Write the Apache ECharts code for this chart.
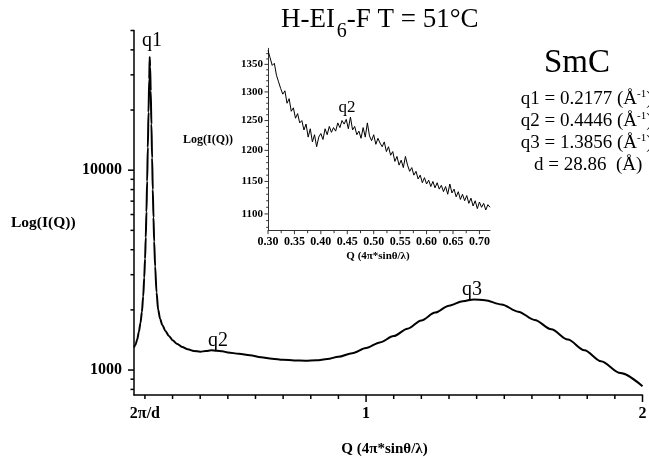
<!DOCTYPE html>
<html><head><meta charset="utf-8">
<script src="https://cdn.jsdelivr.net/npm/echarts@6/dist/echarts.min.js"></script>
<style>html,body{margin:0;padding:0;background:#fff}#c{width:649px;height:459px}</style>
</head><body><div id="c"></div>
<script>
// ---- main curve data ----
const qMain = [0.1605,0.166,0.172,0.178,0.184,0.189,0.1938,0.1975,0.2005,0.203,0.2055,0.208,0.2105,0.213,0.2155,0.2172,0.2188,0.221,0.2235,0.226,0.2285,0.231,0.2335,0.237,0.242,0.248,0.255,0.263,0.274,0.287,0.30,0.315,0.335,0.355,0.377,0.40,0.42,0.44,0.46,0.48,0.50,0.54,0.58,0.62,0.66,0.70,0.74,0.78,0.82,0.86,0.90,0.95,1.0,1.05,1.1,1.15,1.2,1.25,1.3,1.35,1.39,1.43,1.49,1.55,1.61,1.67,1.73,1.79,1.85,1.92,2.0];
const iMain = [1300,1340,1420,1550,1720,1950,2340,2900,3600,4600,6200,8800,13000,19500,28500,36800,33000,25000,17000,11500,8000,5800,4400,3300,2450,2000,1800,1680,1570,1480,1410,1355,1305,1270,1245,1235,1245,1255,1250,1240,1225,1205,1185,1160,1140,1125,1117,1113,1118,1135,1165,1215,1290,1375,1479,1610,1770,1940,2100,2210,2255,2235,2130,1960,1780,1600,1420,1255,1105,965,830];
// ---- inset data ----
const qInset = [0.300,0.304,0.308,0.312,0.316,0.320,0.324,0.328,0.332,0.336,0.340,0.344,0.348,0.352,0.356,0.360,0.364,0.368,0.372,0.376,0.380,0.384,0.388,0.392,0.396,0.400,0.404,0.408,0.412,0.416,0.420,0.424,0.428,0.432,0.436,0.440,0.444,0.448,0.452,0.456,0.460,0.464,0.468,0.472,0.476,0.480,0.484,0.488,0.492,0.496,0.500,0.504,0.508,0.512,0.516,0.520,0.524,0.528,0.532,0.536,0.540,0.544,0.548,0.552,0.556,0.560,0.564,0.568,0.572,0.576,0.580,0.584,0.588,0.592,0.596,0.600,0.604,0.608,0.612,0.616,0.620,0.624,0.628,0.632,0.636,0.640,0.644,0.648,0.652,0.656,0.660,0.664,0.668,0.672,0.676,0.680,0.684,0.688,0.692,0.696,0.700,0.704,0.708,0.712,0.716,0.720];
const iInset = [1376,1362,1348,1352,1330,1318,1306,1296,1302,1280,1288,1266,1272,1254,1262,1246,1250,1234,1244,1222,1236,1214,1226,1206,1222,1228,1218,1236,1226,1240,1230,1238,1232,1246,1238,1250,1244,1252,1236,1256,1234,1240,1226,1232,1220,1238,1222,1246,1224,1216,1226,1210,1220,1212,1206,1214,1198,1206,1192,1198,1182,1190,1176,1184,1172,1190,1176,1166,1172,1160,1166,1154,1160,1148,1156,1146,1152,1142,1150,1140,1148,1138,1144,1134,1142,1130,1146,1132,1138,1126,1134,1122,1130,1120,1128,1116,1124,1112,1120,1108,1118,1110,1116,1106,1114,1110];
// ---- ticks / labels ----
const mainYMajor = [1000, 10000];
const mainYTicks = [800, 900, 1000, 2000, 3000, 4000, 5000, 6000, 7000, 8000, 9000, 10000, 20000, 30000, 40000, 50000];
const mainXMajor = [1, 2];
const mainXTicks = [0.2,0.3,0.4,0.5,0.6,0.7,0.8,0.9,1.0,1.1,1.2,1.3,1.4,1.5,1.6,1.7,1.8,1.9,2.0];
const mainXLabels = [0.2, 1, 2];
const mainXLabelText = {'0.2':'2π/d','1':'1','2':'2'};
const insetXLabels = [0.30,0.35,0.40,0.45,0.50,0.55,0.60,0.65,0.70];
const insetXTicks = [0.300,0.325,0.350,0.375,0.400,0.425,0.450,0.475,0.500,0.525,0.550,0.575,0.600,0.625,0.650,0.675,0.700];
const insetYLabels = [1100,1150,1200,1250,1300,1350];
const insetYMinor = [1080,1090,1110,1120,1130,1140,1160,1170,1180,1190,1210,1220,1230,1240,1260,1270,1280,1290,1310,1320,1330,1340,1360,1370];

const FONT = 'Liberation Serif';
const X0MIN = 0.1605, X0MAX = 2, Y0MIN = 750, Y0MAX = 50000;
const X1MIN = 0.30, X1MAX = 0.72, Y1MIN = 1075, Y1MAX = 1380;
const mainPts = qMain.map((q,i)=>[q,iMain[i]]);
const insetPts = qInset.map((q,i)=>[q,iInset[i]]);
const near = (arr, v) => arr.some(a => Math.abs(a - v) < 1e-6);

// tick mark series drawn through the axes' own scales
function yTickSeries(xi, yi, xmin, vals, isMajor, majLen, minLen, color, lw) {
  return {type:'custom', xAxisIndex:xi, yAxisIndex:yi, silent:true, clip:false, z:5,
    data: vals.map(v => [xmin, v]),
    renderItem:(params, api) => {
      const v = api.value(1);
      const p = api.coord([api.value(0), v]);
      const len = isMajor(v) ? majLen : minLen;
      return {type:'line', shape:{x1:p[0]-len, y1:p[1], x2:p[0], y2:p[1]}, style:{stroke:color, lineWidth:lw}};
    }};
}
function xTickSeries(xi, yi, ymin, vals, isMajor, majLen, minLen, color, lw) {
  return {type:'custom', xAxisIndex:xi, yAxisIndex:yi, silent:true, clip:false, z:5,
    data: vals.map(v => [v, ymin]),
    renderItem:(params, api) => {
      const v = api.value(0);
      const p = api.coord([v, api.value(1)]);
      const len = isMajor(v) ? majLen : minLen;
      return {type:'line', shape:{x1:p[0], y1:p[1], x2:p[0], y2:p[1]+len}, style:{stroke:color, lineWidth:lw}};
    }};
}

const chart = echarts.init(document.getElementById('c'), null, {renderer:'canvas'});
const axLine = {show:true, lineStyle:{color:'#000', width:1.5}};
const inLine = {show:true, lineStyle:{color:'#333', width:1}};
const option = {
  backgroundColor:'#fff',
  animation:false,
  grid:[
    {left:134, right:6.5, top:30.5, bottom:64, outerBoundsMode:'none'},
    {left:268, right:159, top:48.3, bottom:228.3, outerBoundsMode:'none'}
  ],
  xAxis:[
    {gridIndex:0, type:'value', min:X0MIN, max:X0MAX, axisLine:axLine, splitLine:{show:false}, axisTick:{show:false},
     axisLabel:{show:true, customValues:mainXLabels, margin:11, fontFamily:FONT, fontWeight:'bold', fontSize:16, color:'#000',
       formatter:v=>mainXLabelText[String(Math.round(v*10)/10)]||''}},
    {gridIndex:1, type:'value', min:X1MIN, max:X1MAX, axisLine:inLine, splitLine:{show:false}, axisTick:{show:false},
     axisLabel:{show:true, customValues:insetXLabels, margin:5, fontFamily:FONT, fontWeight:'bold', fontSize:12, color:'#000',
       formatter:v=>v.toFixed(2)}}
  ],
  yAxis:[
    {gridIndex:0, type:'log', logBase:10, min:Y0MIN, max:Y0MAX, axisLine:axLine, splitLine:{show:false}, axisTick:{show:false}, minorTick:{show:false},
     axisLabel:{show:true, customValues:mainYMajor, margin:12, fontFamily:FONT, fontWeight:'bold', fontSize:16, color:'#000',
       formatter:v=>String(Math.round(v))}},
    {gridIndex:1, type:'log', logBase:10, min:Y1MIN, max:Y1MAX, axisLine:inLine, splitLine:{show:false}, axisTick:{show:false}, minorTick:{show:false},
     axisLabel:{show:true, customValues:insetYLabels, margin:5, fontFamily:FONT, fontWeight:'bold', fontSize:11, color:'#000',
       formatter:v=>String(Math.round(v))}}
  ],
  series:[
    {type:'line', xAxisIndex:0, yAxisIndex:0, data:mainPts, symbol:'none', smooth:0.3, smoothMonotone:'x',
     lineStyle:{color:'#000', width:2}},
    {type:'line', xAxisIndex:1, yAxisIndex:1, data:insetPts, symbol:'none',
     lineStyle:{color:'#000', width:1}},
    yTickSeries(0, 0, X0MIN, mainYTicks, v => near(mainYMajor, v), 6, 3.5, '#000', 1.5),
    xTickSeries(0, 0, Y0MIN, mainXTicks, v => near(mainXMajor, v), 7, 4, '#000', 1.5),
    yTickSeries(1, 1, X1MIN, insetYLabels.concat(insetYMinor), v => near(insetYLabels, v), 3.5, 1.8, '#333', 1),
    xTickSeries(1, 1, Y1MIN, insetXTicks, v => near(insetXLabels, v), 3.5, 2.5, '#333', 1)
  ],
  graphic:[
    {type:'text', style:{x:281, y:20, text:'H-EI', fontFamily:FONT, fontSize:27, fill:'#000', align:'left', verticalAlign:'middle'}},
    {type:'text', style:{x:336.7, y:32, text:'6', fontFamily:FONT, fontSize:20, fill:'#000', align:'left', verticalAlign:'middle'}},
    {type:'text', style:{x:346.7, y:20, text:'-F T = 51°C', fontFamily:FONT, fontSize:27, fill:'#000', align:'left', verticalAlign:'middle'}},
    {type:'text', style:{x:577, y:63, text:'SmC', fontFamily:FONT, fontSize:33, fill:'#000', align:'center', verticalAlign:'middle'}},
    {type:'text', style:{x:520.7, y:99.5, text:'{a|q1 = 0.2177 (Å}{s|-1}{a|)}', fill:'#000', align:'left', verticalAlign:'middle',
      rich:{a:{fontFamily:FONT, fontSize:19, lineHeight:22, verticalAlign:'middle'}, s:{fontFamily:FONT, fontSize:11, lineHeight:22, verticalAlign:'top'}}}},
    {type:'text', style:{x:520.7, y:121.5, text:'{a|q2 = 0.4446 (Å}{s|-1}{a|)}', fill:'#000', align:'left', verticalAlign:'middle',
      rich:{a:{fontFamily:FONT, fontSize:19, lineHeight:22, verticalAlign:'middle'}, s:{fontFamily:FONT, fontSize:11, lineHeight:22, verticalAlign:'top'}}}},
    {type:'text', style:{x:520.7, y:143.5, text:'{a|q3 = 1.3856 (Å}{s|-1}{a|)}', fill:'#000', align:'left', verticalAlign:'middle',
      rich:{a:{fontFamily:FONT, fontSize:19, lineHeight:22, verticalAlign:'middle'}, s:{fontFamily:FONT, fontSize:11, lineHeight:22, verticalAlign:'top'}}}},
    {type:'text', style:{x:534, y:165, text:'d = 28.86  (Å)', fontFamily:FONT, fontSize:19, fill:'#000', align:'left', verticalAlign:'middle'}},
    {type:'text', style:{x:152, y:41, text:'q1', fontFamily:FONT, fontSize:20, fill:'#000', align:'center', verticalAlign:'middle'}},
    {type:'text', style:{x:218, y:341, text:'q2', fontFamily:FONT, fontSize:20, fill:'#000', align:'center', verticalAlign:'middle'}},
    {type:'text', style:{x:472, y:290, text:'q3', fontFamily:FONT, fontSize:20, fill:'#000', align:'center', verticalAlign:'middle'}},
    {type:'text', style:{x:347, y:108, text:'q2', fontFamily:FONT, fontSize:17, fill:'#000', align:'center', verticalAlign:'middle'}},
    {type:'text', style:{x:11, y:223, text:'Log(I(Q))', fontFamily:FONT, fontWeight:'bold', fontSize:15.5, fill:'#000', align:'left', verticalAlign:'middle'}},
    {type:'text', style:{x:183, y:140, text:'Log(I(Q))', fontFamily:FONT, fontWeight:'bold', fontSize:12, fill:'#000', align:'left', verticalAlign:'middle'}},
    {type:'text', style:{x:384.5, y:449, text:'Q (4π*sinθ/λ)', fontFamily:FONT, fontWeight:'bold', fontSize:15, fill:'#000', align:'center', verticalAlign:'middle'}},
    {type:'text', style:{x:378, y:256, text:'Q (4π*sinθ/λ)', fontFamily:FONT, fontWeight:'bold', fontSize:11, fill:'#000', align:'center', verticalAlign:'middle'}}
  ]
};
chart.setOption(option);
</script>
</body></html>
